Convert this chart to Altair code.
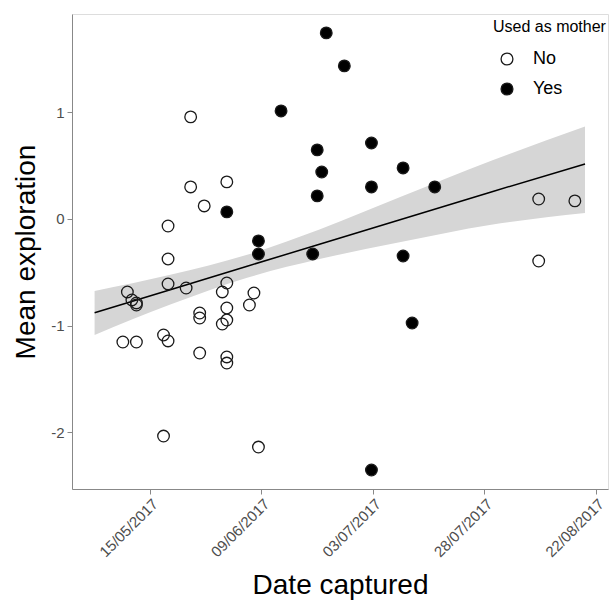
import altair as alt
import pandas as pd

# ---- data ----
no_dates = [
    "2017-05-24", "2017-05-24", "2017-06-01", "2017-05-27", "2017-05-19",
    "2017-05-19", "2017-05-19", "2017-05-23", "2017-06-01", "2017-05-10",
    "2017-05-11", "2017-05-12", "2017-05-12", "2017-05-31", "2017-06-07",
    "2017-06-06", "2017-06-01", "2017-05-26", "2017-05-26", "2017-06-01",
    "2017-05-31", "2017-05-09", "2017-05-12", "2017-05-18", "2017-05-19",
    "2017-05-26", "2017-06-01", "2017-06-01", "2017-05-18", "2017-06-08",
    "2017-08-09", "2017-08-09", "2017-08-17",
]
no_values = [
    0.956, 0.30, 0.347, 0.122, -0.066,
    -0.375, -0.609, -0.647, -0.60, -0.684,
    -0.759, -0.787, -0.806, -0.684, -0.694,
    -0.806, -0.834, -0.881, -0.928, -0.947,
    -0.984, -1.153, -1.153, -1.087, -1.143,
    -1.256, -1.293, -1.35, -2.034, -2.137,
    -0.394, 0.187, 0.169,
]
yes_dates = [
    "2017-06-23", "2017-06-27", "2017-06-13", "2017-06-21", "2017-07-03",
    "2017-06-22", "2017-07-10", "2017-06-21", "2017-07-03", "2017-07-17",
    "2017-06-01", "2017-06-08", "2017-06-08", "2017-06-20", "2017-07-10",
    "2017-07-12", "2017-07-03",
]
yes_values = [
    1.743, 1.434, 1.012, 0.647, 0.712,
    0.44, 0.478, 0.216, 0.30, 0.30,
    0.066, -0.206, -0.328, -0.328, -0.347,
    -0.975, -2.352,
]
groups = ["No", "Yes"]

# linear smooth and its 95% band
smooth_dates = ["2017-05-03T06:00:00", "2017-05-20T00:00:00", "2017-06-06T00:00:00",
                "2017-06-22T00:00:00", "2017-07-10T00:00:00", "2017-07-30T00:00:00",
                "2017-08-19T18:00:00"]
smooth_fit = [-0.878, -0.663, -0.443, -0.237, -0.005, 0.253, 0.515]
smooth_lo = [-1.087, -0.802, -0.551, -0.376, -0.216, -0.054, 0.056]
smooth_hi = [-0.675, -0.523, -0.336, -0.098, 0.207, 0.545, 0.865]

tick_labels = ["15/05/2017", "09/06/2017", "03/07/2017", "28/07/2017", "22/08/2017"]
y_ticks = [-2, -1, 0, 1]

# ---- build tables ----
pts = pd.DataFrame({
    "date": [d + "T12:00:00" for d in no_dates + yes_dates],
    "exploration": no_values + yes_values,
    "mother": [groups[0]] * len(no_dates) + [groups[1]] * len(yes_dates),
})
fit = pd.DataFrame({"date": smooth_dates, "fit": smooth_fit, "lo": smooth_lo, "hi": smooth_hi})

tick_vals = [
    alt.DateTime(year=2017, month=5, date=15, hours=12),
    alt.DateTime(year=2017, month=6, date=9, hours=4),
    alt.DateTime(year=2017, month=7, date=3, hours=20),
    alt.DateTime(year=2017, month=7, date=28, hours=12),
    alt.DateTime(year=2017, month=8, date=22, hours=4),
]
x_scale = alt.Scale(domain=[
    alt.DateTime(year=2017, month=4, date=28, hours=6),
    alt.DateTime(year=2017, month=8, date=24, hours=20),
])
y_scale = alt.Scale(domain=[-2.53, 1.92], nice=False, zero=False)

x_axis = alt.Axis(
    title="Date captured", values=tick_vals, format="%d/%m/%Y", labelAngle=315,
    grid=False, labelFontSize=15, labelColor="#4d4d4d", labelPadding=2,
    titleFontSize=28, titleFontWeight="normal", titleColor="black", titlePadding=12,
)
y_axis = alt.Axis(
    title="Mean exploration", values=y_ticks, grid=False, labelExpr="'' + datum.value",
    labelFontSize=15, labelColor="#4d4d4d", labelPadding=3,
    titleFontSize=28, titleFontWeight="normal", titleColor="black", titlePadding=10,
)

band = alt.Chart(fit).mark_area(color="#d6d6d6", opacity=1, interpolate="monotone").encode(
    x=alt.X("date:T", scale=x_scale, axis=x_axis),
    y=alt.Y("lo:Q", scale=y_scale, axis=y_axis),
    y2="hi:Q",
)
line = alt.Chart(fit).mark_line(color="black", strokeWidth=1.5).encode(
    x=alt.X("date:T", scale=x_scale),
    y=alt.Y("fit:Q", scale=y_scale),
)
points = alt.Chart(pts).mark_point(
    shape="circle", size=135, opacity=1, stroke="#1a1a1a", strokeWidth=1.3,
).encode(
    x=alt.X("date:T", scale=x_scale),
    y=alt.Y("exploration:Q", scale=y_scale),
    fill=alt.Fill(
        "mother:N",
        scale=alt.Scale(domain=groups, range=["transparent", "black"]),
        legend=alt.Legend(
            title="Used as mother", orient="none", legendX=421, legendY=5,
            titleFontSize=16, titleFontWeight="normal", titleColor="black",
            labelFontSize=18, labelColor="black", symbolType="circle",
            symbolSize=140, symbolStrokeColor="#1a1a1a", symbolStrokeWidth=1.3,
            symbolOffset=5, rowPadding=12, titlePadding=15, labelOffset=17,
        ),
    ),
)

chart = alt.layer(band, line, points).properties(
    width=536, height=475,
    autosize=alt.AutoSizeParams(type="none"),
    padding={"left": 72, "top": 14, "right": 8, "bottom": 117},
).configure_view(stroke=None).configure_axis(
    domainColor="black", domainWidth=1.2, tickColor="#333333", tickSize=4,
    labelFont="Liberation Sans", titleFont="Liberation Sans",
).configure_legend(
    labelFont="Liberation Sans", titleFont="Liberation Sans",
).configure(background="white")

chart.save("out.html", embed_options={"renderer": "svg", "actions": False})
